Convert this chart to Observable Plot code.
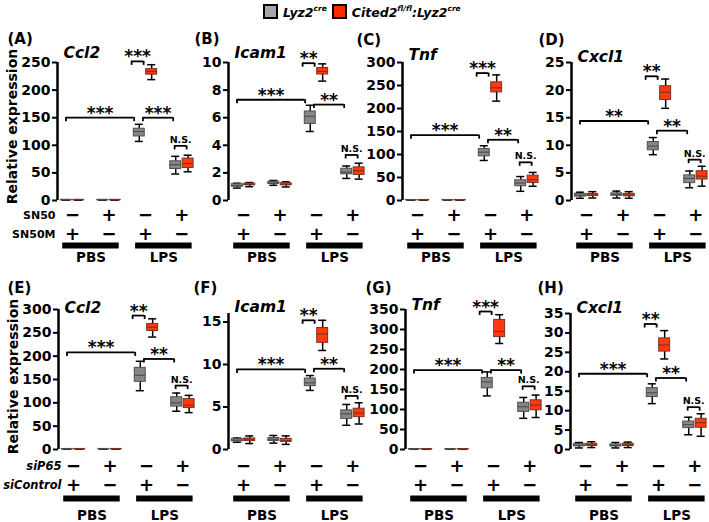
<!DOCTYPE html>
<html><head><meta charset="utf-8">
<script src="https://cdn.jsdelivr.net/npm/d3@7"></script>
<script src="https://cdn.jsdelivr.net/npm/@observablehq/plot@0.6"></script>
<style>
body{margin:0;background:#fff;font-family:"DejaVu Sans",sans-serif;}
#fig{position:relative;width:709px;height:522px;overflow:hidden;background:#fff;}
#fig svg{position:absolute;}
.legend{position:absolute;top:3px;left:263px;display:flex;align-items:center;font-weight:bold;font-style:italic;font-size:12.5px;line-height:14px;white-space:nowrap;}
.sw{width:11px;height:11px;border:2px solid #000;display:inline-block;margin-right:5px;}
.legend sup{font-size:7.5px;position:relative;top:-1px;}
</style></head><body><div id="fig"></div>
<script>
// ---------- data ----------
const panelIds = ["(A)","(B)","(C)","(D)","(E)","(F)","(G)","(H)"];
const genes = ["Ccl2","Icam1","Tnf","Cxcl1","Ccl2","Icam1","Tnf","Cxcl1"];
const yMax = [250,10,300,25,300,16,350,35];
const yTicks = [
  [0,50,100,150,200,250],[0,2,4,6,8,10],[0,50,100,150,200,250,300],[0,5,10,15,20,25],
  [0,50,100,150,200,250,300],[0,5,10,15],[0,50,100,150,200,250,300,350],[0,5,10,15,20,25,30,35]
];
const treatments = ["PBS","LPS"];
const treatmentGroups = [[0,1],[2,3]];
const topRow1 = ["−","+","−","+"];     // SN50 / siP65
const topRow2 = ["+","−","+","−"];     // SN50M / siControl
const rowNamesTop = ["SN50","SN50M"];
const rowNamesBottom = ["siP65","siControl"];
const yTitle = "Relative expression";

// five-number summaries [min, q1, median, q3, max]; groups: PBS(−/+), PBS(+/−), LPS(−/+), LPS(+/−)
const A_gray = [[0.5,0.8,1,1.2,1.5],[0.5,0.8,1,1.2,1.5],[107,116,125,130,138],[48,57,65,71,80]];
const A_red  = [[0.5,0.8,1,1.2,1.5],[0.5,0.8,1,1.2,1.5],[219,228,234,238,246],[52,59,67,76,82]];
const B_gray = [[0.9,1.0,1.08,1.18,1.25],[1.1,1.2,1.28,1.36,1.45],[5.0,5.55,6.1,6.45,6.9],[1.6,1.9,2.05,2.3,2.5]];
const B_red  = [[1.0,1.1,1.17,1.22,1.3],[0.98,1.1,1.18,1.25,1.35],[8.65,9.13,9.35,9.6,9.9],[1.55,1.85,2.15,2.4,2.7]];
const C_gray = [[0.5,0.8,1,1.2,1.5],[0.5,0.8,1,1.2,1.5],[87,96,105,112,119],[20,31,38,44,52]];
const C_red  = [[0.5,0.8,1,1.2,1.5],[0.5,0.8,1,1.2,1.5],[216,235,245,257,273],[31,38,45,54,61]];
const D_gray = [[0.4,0.7,0.95,1.2,1.5],[0.45,0.85,1.1,1.3,1.7],[8.3,9.1,9.85,10.6,11.4],[2.3,3.15,4.0,4.55,5.35]];
const D_red  = [[0.45,0.8,1.0,1.2,1.6],[0.4,0.75,1.0,1.2,1.6],[16.7,18.2,19.6,20.7,22],[2.6,3.8,4.4,5.3,6.2]];
const E_gray = [[0.5,0.8,1,1.2,1.5],[0.5,0.8,1,1.2,1.5],[126,145,159,175,189],[82,92,100,112,121]];
const E_red  = [[0.5,0.8,1,1.2,1.5],[0.5,0.8,1,1.2,1.5],[241,254,262,269,280],[79,89,95,108,116]];
const F_gray = [[0.85,0.95,1.1,1.25,1.35],[0.75,1.0,1.2,1.35,1.65],[6.95,7.45,7.85,8.35,8.7],[2.85,3.6,4.2,4.6,5.3]];
const F_red  = [[0.7,1.0,1.15,1.3,1.6],[0.6,0.9,1.05,1.25,1.6],[11.65,12.55,13.6,14.3,15.2],[3.0,3.8,4.3,4.8,5.5]];
const G_gray = [[0.5,0.8,1,1.2,1.5],[0.5,0.8,1,1.2,1.5],[134,153,169,179,194],[78,94,107,117,130]];
const G_red  = [[0.5,0.8,1,1.2,1.5],[0.5,0.8,1,1.2,1.5],[265,281,295,324,337],[80,98,111,123,136]];
const H_gray = [[0.4,0.8,1.1,1.4,1.8],[0.4,0.8,1.0,1.3,1.8],[11.8,13.5,14.6,15.8,16.9],[3.8,5.5,6.4,7.2,8.3]];
const H_red  = [[0.5,0.9,1.2,1.5,2.0],[0.5,0.9,1.2,1.5,1.9],[23.3,25.2,26.9,28.6,30.6],[3.4,5.6,6.9,7.9,9.2]];
const grays = [A_gray,B_gray,C_gray,D_gray,E_gray,F_gray,G_gray,H_gray];
const reds  = [A_red,B_red,C_red,D_red,E_red,F_red,G_red,H_red];

// significance brackets: heights (data units) and labels
const sigTopY   = [252, 9.95, 277, 22.5, 287, 15.2, 345, 32.3];
const sigTopLab = ["***","**","***","**","**","**","***","**"];
const sigLongY   = [150, 7.3, 142, 14.4, 208, 9.42, 198.5, 19.5];
const sigLongLab = ["***","***","***","**","***","***","***","***"];
const sigMidY   = [150, 6.95, 132, 12.65, 194, 9.5, 198.5, 18.4];
const sigMidLab = ["***","**","**","**","**","**","**","**"];
const sigNsY   = [99, 3.3, 83, 7.4, 137, 6.3, 158, 10.9];
const sigNsLab = ["N.S.","N.S.","N.S.","N.S.","N.S.","N.S.","N.S.","N.S."];

// ---------- layout (page geometry, not data) ----------
const layout = [
  {left:0,   top:28,  mt:34, h:238, labelX:7,   labelY:39,  geneY:53,  titleDy:-5},
  {left:171, top:28,  mt:34, h:238, labelX:194, labelY:39,  geneY:53},
  {left:345, top:28,  mt:34, h:238, labelX:356, labelY:40,  geneY:55},
  {left:514, top:28,  mt:34, h:238, labelX:538, labelY:40,  geneY:57},
  {left:1,   top:272, mt:37, h:247, labelX:7,   labelY:288, geneY:308, titleDy:-3},
  {left:171, top:272, mt:41, h:247, labelX:193, labelY:288, geneY:307},
  {left:348, top:272, mt:37, h:247, labelX:365, labelY:288, geneY:305},
  {left:513, top:272, mt:41, h:247, labelX:537, labelY:288, geneY:308}
];
const ML = 57, XMIN = -0.413, XMAX = 3.4;
const spans = {top:[1.62,1.95], long:[-0.18,1.69], mid:[1.93,2.76], ns:[2.8,3.13]};
const GRAY = "#878787", GRAY_S = "#4f4f4f", RED = "#ff3a0c", RED_S = "#7a3325";
const FONT = "DejaVu Sans";

const fig = document.getElementById("fig");
const leg = document.createElement("div");
leg.className = "legend";
leg.innerHTML = `<span class="sw" style="background:#a6a6a6"></span><span>Lyz2<sup>cre</sup></span>
<span class="sw" style="background:#ff2a00;margin-left:5px"></span><span>Cited2<sup>fl/fl</sup>:Lyz2<sup>cre</sup></span>`;
fig.appendChild(leg);

function panel(i) {
  const L = layout[i];
  const bottom = i >= 4;
  const frameTop = L.top + L.mt;
  const frameBottom = bottom ? 449 : 200;
  const marginBottom = L.top + L.h - frameBottom;
  const off = bottom ? [17, 36, 49, 66] : [15, 34, 45, 57];
  const boxes = [];
  for (let g = 0; g < 4; g++) {
    const a = grays[i][g], b = reds[i][g];
    boxes.push({s: 0, pos: g - 0.17, lo: a[0], q1: a[1], med: a[2], q3: a[3], hi: a[4]});
    boxes.push({s: 1, pos: g + 0.17, lo: b[0], q1: b[1], med: b[2], q3: b[3], hi: b[4]});
  }
  const gB = boxes.filter(d => d.s === 0), rB = boxes.filter(d => d.s === 1);
  const br = [
    {x1: spans.top[0], x2: spans.top[1], y: sigTopY[i], label: sigTopLab[i]},
    {x1: spans.long[0], x2: spans.long[1], y: sigLongY[i], label: sigLongLab[i]},
    {x1: spans.mid[0], x2: spans.mid[1], y: sigMidY[i], label: sigMidLab[i]},
    {x1: spans.ns[0], x2: spans.ns[1], y: sigNsY[i], label: sigNsLab[i]}
  ];
  const groups = [0,1,2,3].map(g => ({g, r1: topRow1[g], r2: topRow2[g]}));
  const tBars = treatments.map((t, k) => ({label: t, x1: treatmentGroups[k][0] - 0.27, x2: treatmentGroups[k][1] + 0.28}));
  const marks = [
    Plot.axisY({ticks: yTicks[i], tickSize: 5, tickPadding: 2, strokeWidth: 2, fontSize: 14, fontWeight: "bold", label: null}),
    Plot.ruleX([XMIN], {y1: 0, y2: yMax[i], strokeWidth: 2.5}),
    // whiskers
    Plot.ruleX(boxes, {x: "pos", y1: "lo", y2: "hi", strokeWidth: 1.5}),
    Plot.ruleY(boxes, {y: "lo", x1: d => d.pos - 0.11, x2: d => d.pos + 0.11, strokeWidth: 1.5}),
    Plot.ruleY(boxes, {y: "hi", x1: d => d.pos - 0.11, x2: d => d.pos + 0.11, strokeWidth: 1.5}),
    // boxes
    Plot.rect(gB, {x1: d => d.pos - 0.15, x2: d => d.pos + 0.15, y1: "q1", y2: "q3", fill: GRAY, stroke: GRAY_S, strokeWidth: 1}),
    Plot.rect(rB, {x1: d => d.pos - 0.15, x2: d => d.pos + 0.15, y1: "q1", y2: "q3", fill: RED, stroke: RED_S, strokeWidth: 1}),
    Plot.ruleY(gB, {y: "med", x1: d => d.pos - 0.15, x2: d => d.pos + 0.15, stroke: GRAY_S, strokeWidth: 1.2}),
    Plot.ruleY(rB, {y: "med", x1: d => d.pos - 0.15, x2: d => d.pos + 0.15, stroke: RED_S, strokeWidth: 1.2}),
    // significance brackets
    Plot.ruleY(br, {y: "y", x1: "x1", x2: "x2", strokeWidth: 1.8}),
    Plot.ruleX(br, {x: "x1", y1: "y", y2: "y", insetTop: 4, strokeWidth: 1.8}),
    Plot.ruleX(br, {x: "x2", y1: "y", y2: "y", insetTop: 4, strokeWidth: 1.8}),
    Plot.text(br.filter(d => d.label !== "N.S."), {x: d => (d.x1 + d.x2) / 2, y: "y", text: "label", lineAnchor: "bottom", fontSize: 17, fontWeight: "bold", dy: 1}),
    Plot.text(br.filter(d => d.label === "N.S."), {x: d => (d.x1 + d.x2) / 2, y: "y", text: "label", lineAnchor: "bottom", fontSize: 9.5, fontWeight: "bold", dy: -3}),
    // condition rows
    Plot.text(groups, {x: "g", text: "r1", frameAnchor: "bottom", lineAnchor: "middle", dy: off[0], fontSize: 18, fontWeight: "bold"}),
    Plot.text(groups, {x: "g", text: "r2", frameAnchor: "bottom", lineAnchor: "middle", dy: off[1], fontSize: 18, fontWeight: "bold"}),
    Plot.ruleY(tBars, {y: 0, x1: "x1", x2: "x2", dy: off[2], strokeWidth: 6}),
    Plot.text(tBars, {x: d => (d.x1 + d.x2) / 2, text: "label", frameAnchor: "bottom", lineAnchor: "middle", dy: off[3], fontSize: 13.5, fontWeight: "bold"}),
    // panel letter and gene name
    Plot.text([panelIds[i]], {frameAnchor: "top-left", textAnchor: "start", lineAnchor: "middle", dx: L.labelX - (L.left + ML), dy: L.labelY - frameTop, fontSize: 15, fontWeight: "bold"}),
    Plot.text([genes[i]], {frameAnchor: "top-left", textAnchor: "start", lineAnchor: "middle", dx: 6, dy: L.geneY - frameTop, fontSize: 15.5, fontWeight: "bold", fontStyle: "italic"})
  ];
  if (i === 0 || i === 4) {
    const names = i === 0 ? rowNamesTop : rowNamesBottom;
    const it = i === 4 ? "italic" : "normal";
    const rdx = i === 4 ? 3 : -2;
    const rfs = i === 4 ? 11.5 : 11;
    marks.push(
      Plot.text([names[0]], {frameAnchor: "bottom-left", textAnchor: "end", lineAnchor: "middle", dx: rdx, dy: off[0], fontSize: rfs, fontWeight: "bold", fontStyle: it}),
      Plot.text([names[1]], {frameAnchor: "bottom-left", textAnchor: "end", lineAnchor: "middle", dx: rdx, dy: off[1], fontSize: rfs, fontWeight: "bold", fontStyle: it}),
      Plot.text([yTitle], {frameAnchor: "left", textAnchor: "middle", rotate: -90, dx: -45, dy: L.titleDy, fontSize: 14, fontWeight: "bold"})
    );
  }
  const svg = Plot.plot({
    width: 200, height: L.h,
    marginLeft: ML, marginRight: 4, marginTop: L.mt, marginBottom: marginBottom,
    x: {domain: [XMIN, XMAX], axis: null},
    y: {domain: [0, yMax[i]], axis: null},
    style: {background: "none", overflow: "visible", fontFamily: FONT, color: "black"},
    marks
  });
  svg.style.left = L.left + "px";
  svg.style.top = L.top + "px";
  svg.style.position = "absolute";
  svg.style.maxWidth = "none";
  fig.appendChild(svg);
}
for (let i = 0; i < 8; i++) panel(i);
</script></body></html>
